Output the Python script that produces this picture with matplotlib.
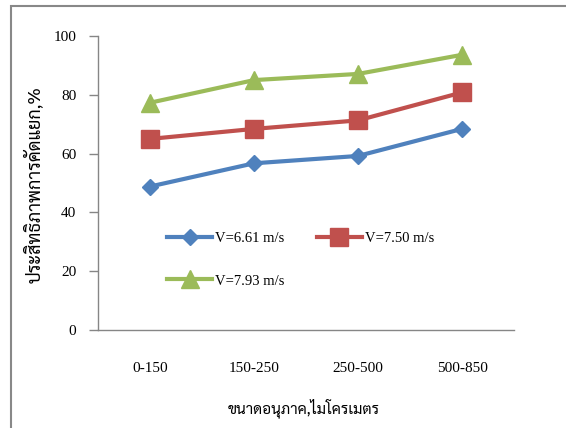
import matplotlib
matplotlib.use("Agg")
import matplotlib.pyplot as plt
from matplotlib.patches import Rectangle

categories = ["0-150", "150-250", "250-500", "500-850"]
v661 = [48.8, 56.7, 59.2, 68.4]
v750 = [65.0, 68.4, 71.3, 80.8]
v793 = [77.3, 85.0, 87.1, 93.6]
series_labels = ["V=6.61 m/s", "V=7.50 m/s", "V=7.93 m/s"]
yticks = [0, 20, 40, 60, 80, 100]
xlabel = "ขนาดอนุภาค,ไมโครเมตร"
ylabel = "ประสิทธิภาพการคัดแยก,%"

W, H = 566, 428
fig = plt.figure(figsize=(W / 100, H / 100), dpi=100)
ax = fig.add_axes([98 / W, 1 - 330 / H, (514 - 98) / W, (330 - 36) / H])

serif = ["Liberation Serif", "DejaVu Serif"]
thai = ["Sarabun", "Liberation Serif", "DejaVu Sans"]

x = list(range(len(categories)))
h1, = ax.plot(x, v661, color="#4F81BD", lw=3, marker="D", ms=8.5, label=series_labels[0])
h2, = ax.plot(x, v750, color="#C0504D", lw=3, marker="s", ms=13, label=series_labels[1])
h3, = ax.plot(x, v793, color="#9BBB59", lw=3, marker="^", ms=12.5, label=series_labels[2])

ax.set_xlim(-0.5, len(categories) - 0.5)
ax.set_ylim(0, 100)
ax.set_yticks(yticks)
ax.set_xticks(x)
ax.set_xticklabels(categories, fontfamily=serif, fontsize=11)
ax.set_yticklabels([str(t) for t in yticks], fontfamily=serif, fontsize=11)
ax.tick_params(axis="x", length=0, pad=23)
ax.tick_params(axis="y", length=6.5, width=1, color="#868686", pad=9)
for s in ["top", "right"]:
    ax.spines[s].set_visible(False)
for s in ["left", "bottom"]:
    ax.spines[s].set_color("#868686")
    ax.spines[s].set_linewidth(1)

fig.text(304 / W, 1 - 408 / H, xlabel, ha="center", va="center",
         fontfamily=thai, fontsize=11)
fig.text(34 / W, 1 - 185 / H, ylabel, ha="center", va="center", rotation=90,
         fontfamily=thai, fontsize=13)

leg = fig.legend([h1, h3, h2], [series_labels[0], series_labels[2], series_labels[1]],
                 ncol=2, loc="upper left", bbox_to_anchor=(167 / W, 1 - 232 / H),
                 frameon=False, borderpad=0, borderaxespad=0, numpoints=1,
                 handlelength=3.1, handletextpad=0.2, columnspacing=2.2,
                 labelspacing=2.0, prop={"family": serif, "size": 10.5})

fig.patches.append(Rectangle((11 / W, -0.1), 1.2, (1 - 6 / H) + 0.1,
                             transform=fig.transFigure, fill=False,
                             edgecolor="#888888", lw=1.5))

fig.savefig("out.png", dpi=100)
